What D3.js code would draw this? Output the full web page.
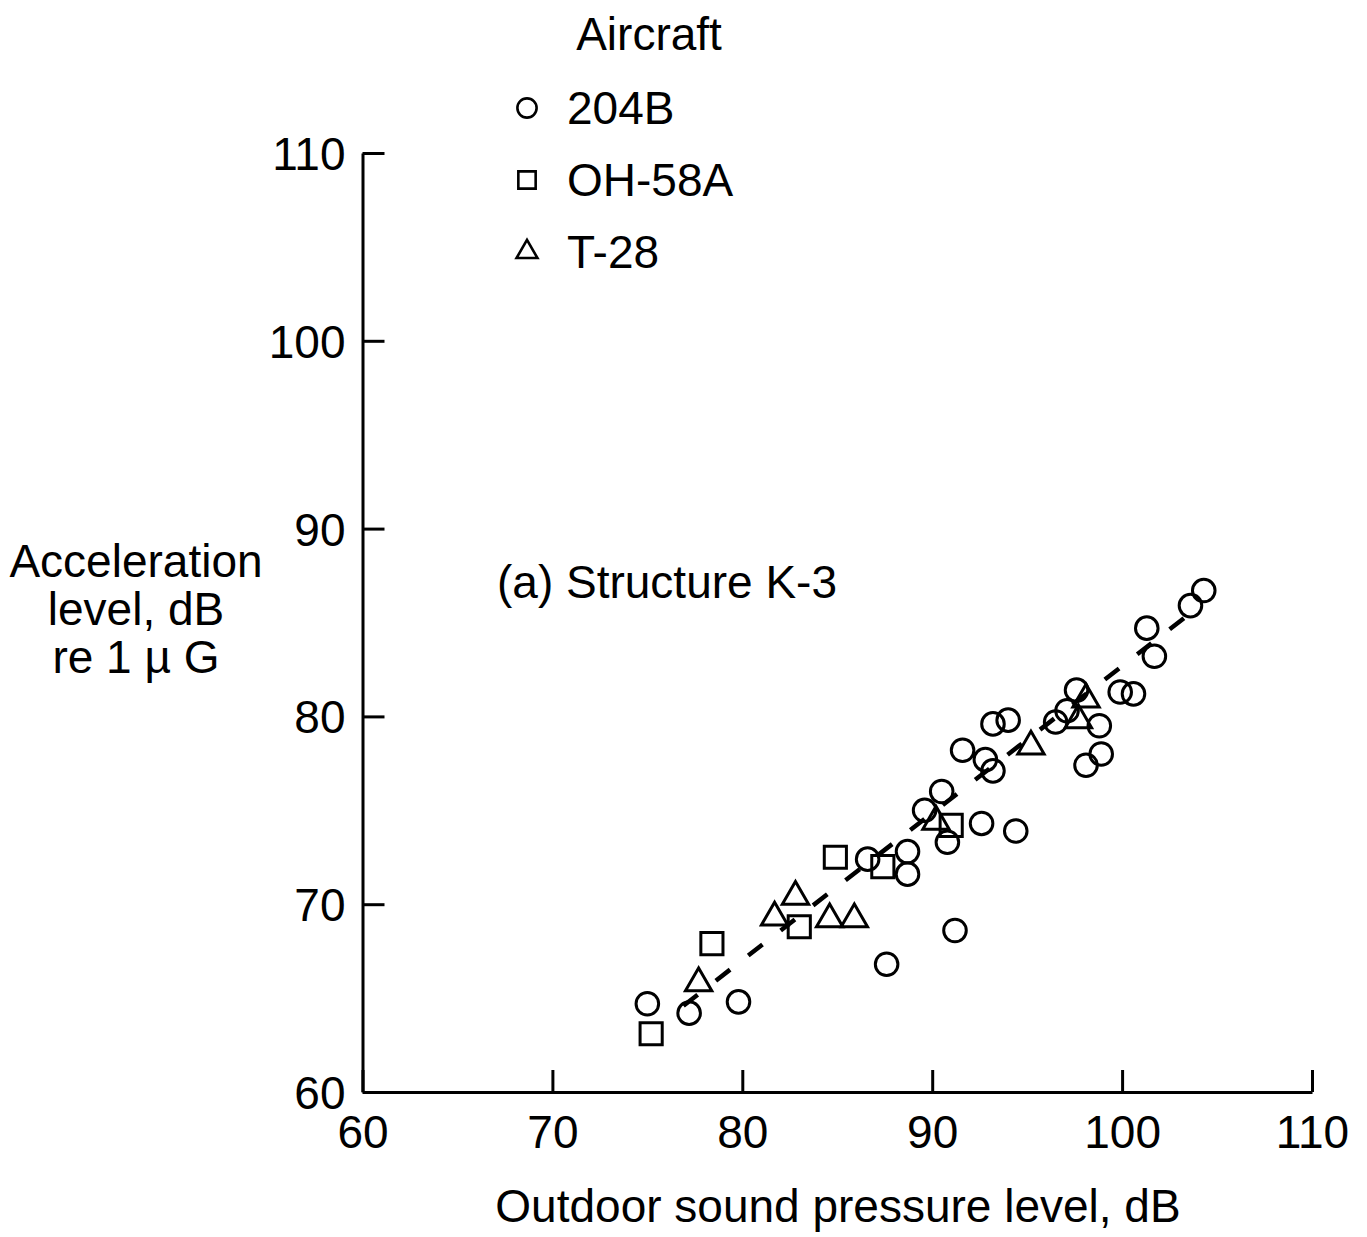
<!DOCTYPE html>
<html>
<head>
<meta charset="utf-8">
<script src="https://cdn.jsdelivr.net/npm/d3@7"></script>
<style>
  body { margin: 0; background: #fff; }
  text { font-family: "Liberation Sans", Arial, Helvetica, sans-serif; fill: #000; }
</style>
</head>
<body>
<div id="chart"></div>
<script>
// values (x = outdoor SPL dB, y = acceleration dB)
const pts204B = [
  [75.0, 64.7], [77.2, 64.2], [79.8, 64.8], [87.6, 66.8], [91.2, 68.6],
  [86.6, 72.4], [88.7, 71.6], [88.7, 72.8], [89.6, 75.0], [90.5, 76.0],
  [90.8, 73.3], [92.6, 74.3], [94.4, 73.9], [91.6, 78.2], [92.8, 77.7],
  [93.2, 77.1], [93.2, 79.6], [94.0, 79.8], [96.5, 79.7], [97.1, 80.3],
  [97.6, 81.4], [98.1, 77.4], [98.8, 79.5], [98.9, 78.0], [99.9, 81.3],
  [100.6, 81.2], [101.3, 84.7], [101.7, 83.2], [103.6, 85.9], [104.3, 86.7]
];
const ptsOH58A = [
  [75.2, 63.1], [78.4, 67.9], [83.0, 68.8], [84.9, 72.5], [87.4, 72.0], [91.0, 74.2]
];
const ptsT28 = [
  [77.7, 65.8], [81.7, 69.3], [82.8, 70.4], [84.6, 69.2], [85.9, 69.2],
  [90.2, 74.4], [95.2, 78.4], [97.7, 79.8], [98.1, 80.9]
];
const fitX = [76.4, 103.6];
const fitY = [64.2, 85.5];
const xTicks = [60, 70, 80, 90, 100, 110];
const yTicks = [60, 70, 80, 90, 100, 110];
const legendNames = ["204B", "OH-58A", "T-28"];

const w = 1367;
const h = 1237;

const svg = d3.select("#chart").append("svg")
  .attr("width", w)
  .attr("height", h);

const x = d3.scaleLinear([60, 110], [362.5, 1312]);
const y = d3.scaleLinear([60, 110], [1092, 153]);

const fs = 46;

// axes, ticks pointing inward
const gx = svg.append("g")
  .attr("transform", `translate(0,${y(60)})`)
  .call(d3.axisBottom(x).tickValues(xTicks).tickSizeInner(-22).tickSizeOuter(0).tickPadding(23));
const gy = svg.append("g")
  .attr("transform", `translate(${x(60)},0)`)
  .call(d3.axisLeft(y).tickValues(yTicks).tickSizeInner(-22).tickSizeOuter(0).tickPadding(17));

[gx, gy].forEach((g) => {
  g.select(".domain").attr("stroke", "#000").attr("stroke-width", 3);
  g.selectAll(".tick line").attr("stroke", "#000").attr("stroke-width", 3);
  g.selectAll(".tick text")
    .style("font-size", fs + "px")
    .style("font-family", '"Liberation Sans", Arial, sans-serif');
});
gy.selectAll(".tick text").attr("dy", "0.36em");

// dashed fit line
svg.append("path")
  .datum(d3.zip(fitX, fitY))
  .attr("d", d3.line().x((d) => x(d[0])).y((d) => y(d[1])))
  .attr("fill", "none")
  .attr("stroke", "#000")
  .attr("stroke-width", 4.5)
  .attr("stroke-dasharray", "18,23")
  .attr("stroke-dashoffset", 29);

const shapes = [
  { data: pts204B, type: d3.symbolCircle, size: 400, lsize: 290 },
  { data: ptsOH58A, type: d3.symbolSquare, size: 490, lsize: 300 },
  { data: ptsT28, type: d3.symbolTriangle, size: 300, lsize: 190 }
];

shapes.forEach((s) => {
  svg.append("g")
    .selectAll("path")
    .data(s.data)
    .enter()
    .append("path")
    .attr("d", d3.symbol(s.type, s.size))
    .attr("transform", (d) => `translate(${x(d[0])},${y(d[1])})`)
    .attr("fill", "none")
    .attr("stroke", "#000")
    .attr("stroke-width", 3);
});

// legend
svg.append("text")
  .attr("x", 649)
  .attr("y", 50)
  .attr("text-anchor", "middle")
  .style("font-size", fs + "px")
  .text("Aircraft");

const legend = svg.append("g")
  .selectAll("g")
  .data(legendNames)
  .enter()
  .append("g")
  .attr("transform", (d, i) => `translate(527,${108 + i * 72})`);

legend.append("path")
  .attr("d", (d, i) => d3.symbol(shapes[i].type, shapes[i].lsize)())
  .attr("fill", "none")
  .attr("stroke", "#000")
  .attr("stroke-width", 2.6);

legend.append("text")
  .attr("x", 40)
  .attr("y", 16)
  .style("font-size", fs + "px")
  .text((d) => d);

// annotation
svg.append("text")
  .attr("x", 497)
  .attr("y", 598)
  .style("font-size", fs + "px")
  .text("(a) Structure K-3");

// axis titles
svg.append("text")
  .attr("x", 838)
  .attr("y", 1222)
  .attr("text-anchor", "middle")
  .style("font-size", fs + "px")
  .text("Outdoor sound pressure level, dB");

const yTitle = svg.append("text")
  .attr("text-anchor", "middle")
  .style("font-size", fs + "px");
["Acceleration", "level, dB", "re 1 \u00b5 G"].forEach((t, i) => {
  yTitle.append("tspan")
    .attr("x", 136)
    .attr("y", 577 + i * 48)
    .text(t);
});
</script>
</body>
</html>
